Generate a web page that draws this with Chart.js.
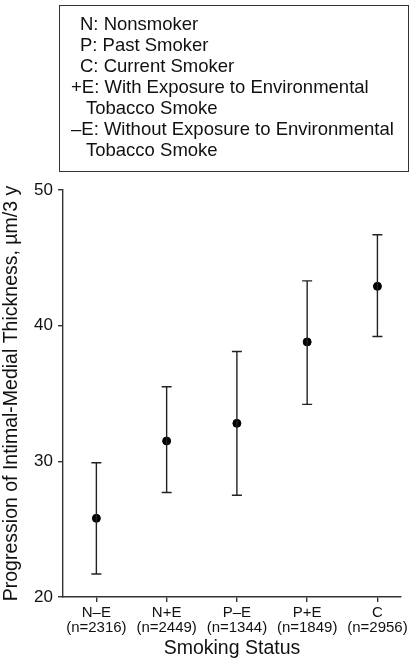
<!DOCTYPE html>
<html>
<head>
<meta charset="utf-8">
<script src="https://cdn.jsdelivr.net/npm/chart.js@4"></script>
<style>
    html, body { margin: 0; padding: 0; background: #fff; }
    #wrap { position: relative; width: 411px; height: 660px; }
    #legendBox {
        position: absolute; left: 59px; top: 5px; width: 348px; height: 158px;
        border: 1px solid #333; box-sizing: content-box;
        font-family: 'Liberation Sans', Arial, sans-serif; font-size: 18.5px;
        color: #111; padding-top: 7px;
    }
    #legendBox div { height: 21px; line-height: 21px; white-space: nowrap; }
</style>
</head>
<body>
<div id="wrap">
    <canvas id="chart" width="411" height="660"></canvas>
    <div id="legendBox"></div>
</div>
<script>
// Categories and group sizes
const categories = ['N\u2013E', 'N+E', 'P\u2013E', 'P+E', 'C'];
const groupSizes = ['(n=2316)', '(n=2449)', '(n=1344)', '(n=1849)', '(n=2956)'];

// Progression estimates and confidence limits (µm/3 y)
const means = [25.8, 31.5, 32.8, 38.8, 42.9];
const lower = [21.7, 27.7, 27.5, 34.2, 39.2];
const upper = [29.9, 35.5, 38.1, 43.3, 46.7];

const yTicks = [20, 30, 40, 50];

// Legend text lines, with indent in px
const legendLines = [
    ['N: Nonsmoker', 20],
    ['P: Past Smoker', 20],
    ['C: Current Smoker', 20],
    ['+E: With Exposure to Environmental', 11],
    ['Tobacco Smoke', 26],
    ['\u2013E: Without Exposure to Environmental', 11],
    ['Tobacco Smoke', 26]
];

const box = document.getElementById('legendBox');
legendLines.forEach(([text, indent]) => {
    const d = document.createElement('div');
    d.textContent = text;
    d.style.paddingLeft = indent + 'px';
    box.appendChild(d);
});

const font = "'Liberation Sans', Arial, sans-serif";
const textColor = '#111';
const axisColor = '#333';

// draws the vertical error bars with caps
const errorBars = {
    id: 'errorBars',
    afterDatasetsDraw(chart) {
        const ctx = chart.ctx;
        const xs = chart.scales.x;
        const ys = chart.scales.y;
        ctx.save();
        ctx.strokeStyle = '#222';
        ctx.lineWidth = 1.4;
        means.forEach((m, i) => {
            const x = xs.getPixelForValue(i);
            const yl = ys.getPixelForValue(lower[i]);
            const yu = ys.getPixelForValue(upper[i]);
            ctx.beginPath();
            ctx.moveTo(x, yl);
            ctx.lineTo(x, yu);
            ctx.moveTo(x - 5, yl);
            ctx.lineTo(x + 5, yl);
            ctx.moveTo(x - 5, yu);
            ctx.lineTo(x + 5, yu);
            ctx.stroke();
        });
        ctx.restore();
    }
};

new Chart(document.getElementById('chart').getContext('2d'), {
    type: 'scatter',
    data: {
        datasets: [{
            data: means.map((v, i) => ({ x: i, y: v })),
            backgroundColor: '#000',
            borderColor: '#000',
            pointRadius: 4,
            pointHoverRadius: 4
        }]
    },
    options: {
        responsive: false,
        animation: false,
        layout: { padding: { top: 190, right: 4, left: 0, bottom: 0 } },
        plugins: { legend: { display: false }, tooltip: { enabled: false } },
        scales: {
            x: {
                type: 'linear',
                min: -0.475,
                max: 4.335,
                afterFit(scale) { scale.height = 63; },
                afterBuildTicks(scale) {
                    scale.ticks = categories.map((_, i) => ({ value: i }));
                },
                grid: { drawOnChartArea: false, color: axisColor, tickLength: 5, lineWidth: 1.4 },
                border: { color: axisColor, width: 1.4 },
                ticks: {
                    autoSkip: false,
                    maxRotation: 0,
                    padding: 3,
                    color: textColor,
                    font: { family: font, size: 15, lineHeight: 1.0 },
                    callback: (v) => [categories[v], groupSizes[v]]
                },
                title: {
                    display: true,
                    text: 'Smoking Status',
                    color: textColor,
                    padding: { top: 0, bottom: 0, left: 10 },
                    font: { family: font, size: 19.5 }
                }
            },
            y: {
                min: 20,
                max: 50,
                afterFit(scale) { scale.width = 63; },
                afterBuildTicks(scale) {
                    scale.ticks = yTicks.map(v => ({ value: v }));
                },
                grid: { drawOnChartArea: false, color: axisColor, tickLength: 5, lineWidth: 1.4 },
                border: { color: axisColor, width: 1.4 },
                ticks: {
                    padding: 5,
                    color: textColor,
                    font: { family: font, size: 17 }
                },
                title: {
                    display: true,
                    text: 'Progression of Intimal-Medial Thickness, \u00b5m/3 y',
                    color: textColor,
                    padding: 0,
                    font: { family: font, size: 19.5 }
                }
            }
        }
    },
    plugins: [errorBars]
});
</script>
</body>
</html>
